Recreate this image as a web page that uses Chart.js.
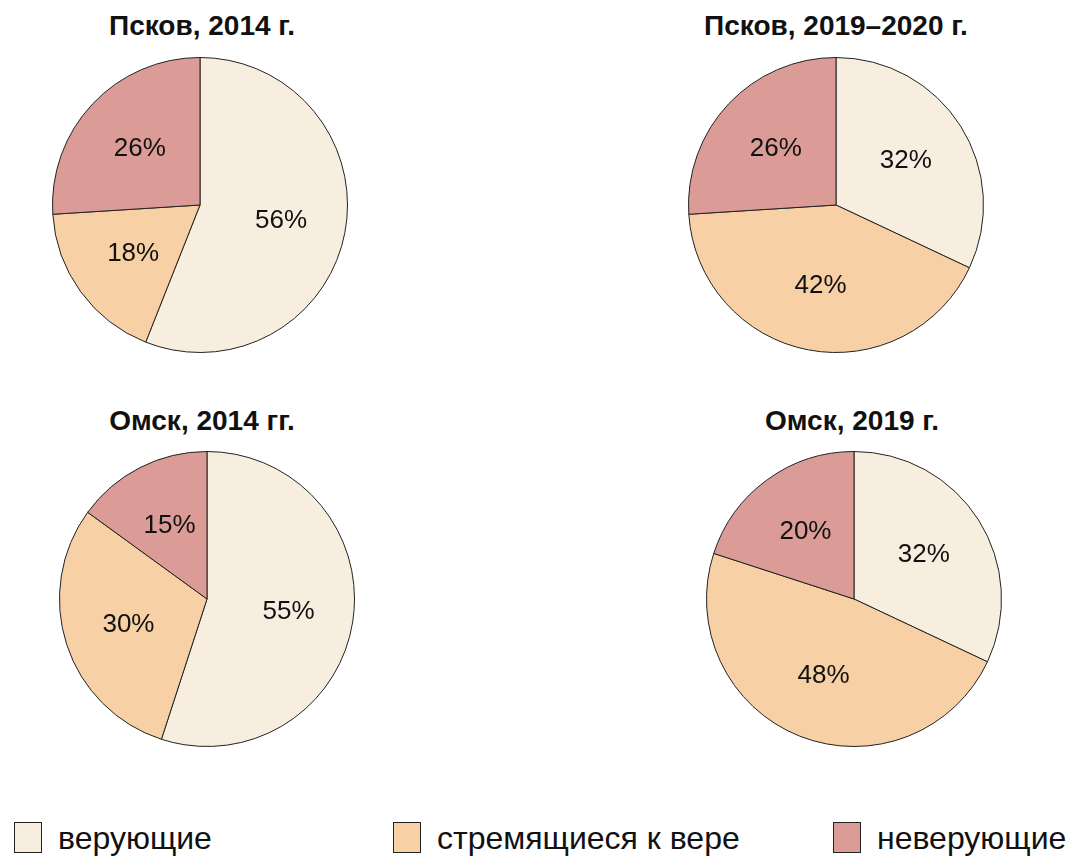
<!DOCTYPE html>
<html>
<head>
<meta charset="utf-8">
<script src="https://cdn.jsdelivr.net/npm/chart.js@4.4.0/dist/chart.umd.min.js"></script>
<style>
  body { margin: 0; background: #fff; font-family: "Liberation Sans", Arial, sans-serif; }
  #page { position: relative; width: 1075px; height: 857px; overflow: hidden; }
  .title { position: absolute; width: 400px; text-align: center; font-weight: bold; font-size: 28px; line-height: 30px; color: #111; }
  .pie { position: absolute; }
  .legend-item { position: absolute; top: 822px; font-size: 32px; color: #111; line-height: 32px; white-space: nowrap; }
  .legend-box { display: inline-block; width: 26px; height: 29px; border: 1px solid #222; vertical-align: top; margin-right: 16px; }
</style>
</head>
<body>
<div id="page"></div>
<script>
// categories and colours
const categories = ["верующие", "стремящиеся к вере", "неверующие"];
const colors = ["#f8eee0", "#f7d0a5", "#db9c97"];

// one entry per pie
const titles = ["Псков, 2014 г.", "Псков, 2019–2020 г.", "Омск, 2014 гг.", "Омск, 2019 г."];
const pskov2014 = [56, 18, 26];
const pskov2019 = [32, 42, 26];
const omsk2014 = [55, 30, 15];
const omsk2019 = [32, 48, 20];
const series = [pskov2014, pskov2019, omsk2014, omsk2019];

// layout: pie centres and title positions
const centers = [[200, 205], [836, 205], [207, 599], [854, 599]];
const titleTops = [11, 11, 406, 406];
const titleX = [202, 836, 202, 852];
const legendX = [14, 393, 833];

const page = document.getElementById("page");

const pctLabels = {
    id: "pctLabels",
    afterDatasetsDraw(chart) {
        const ctx = chart.ctx;
        const meta = chart.getDatasetMeta(0);
        ctx.save();
        ctx.font = "26px 'Liberation Sans', Arial, sans-serif";
        ctx.fillStyle = "#111";
        ctx.textAlign = "center";
        ctx.textBaseline = "middle";
        meta.data.forEach((arc, i) => {
            const p = arc.getProps(["x", "y", "startAngle", "endAngle", "outerRadius"], true);
            const mid = (p.startAngle + p.endAngle) / 2;
            const r = p.outerRadius * 0.56;
            ctx.fillText(chart.data.datasets[0].data[i] + "%", p.x + Math.cos(mid) * r, p.y + Math.sin(mid) * r);
        });
        ctx.restore();
    }
};

series.forEach((vals, k) => {
    const t = document.createElement("div");
    t.className = "title";
    t.style.left = (titleX[k] - 200) + "px";
    t.style.top = titleTops[k] + "px";
    t.textContent = titles[k];
    page.appendChild(t);

    const size = 300;
    const c = document.createElement("canvas");
    c.className = "pie";
    c.width = size; c.height = size;
    c.style.width = size + "px"; c.style.height = size + "px";
    c.style.left = (centers[k][0] - size / 2) + "px";
    c.style.top = (centers[k][1] - size / 2) + "px";
    page.appendChild(c);

    new Chart(c.getContext("2d"), {
        type: "pie",
        data: {
            labels: categories,
            datasets: [{ data: vals, backgroundColor: colors, borderColor: "#222", borderWidth: 1, hoverOffset: 0 }]
        },
        options: {
            responsive: false,
            animation: false,
            layout: { padding: 2 },
            plugins: { legend: { display: false }, tooltip: { enabled: false } }
        },
        plugins: [pctLabels]
    });
});

categories.forEach((name, i) => {
    const item = document.createElement("div");
    item.className = "legend-item";
    item.style.left = legendX[i] + "px";
    item.innerHTML = '<span class="legend-box" style="background:' + colors[i] + '"></span>' + name;
    page.appendChild(item);
});
</script>
</body>
</html>
